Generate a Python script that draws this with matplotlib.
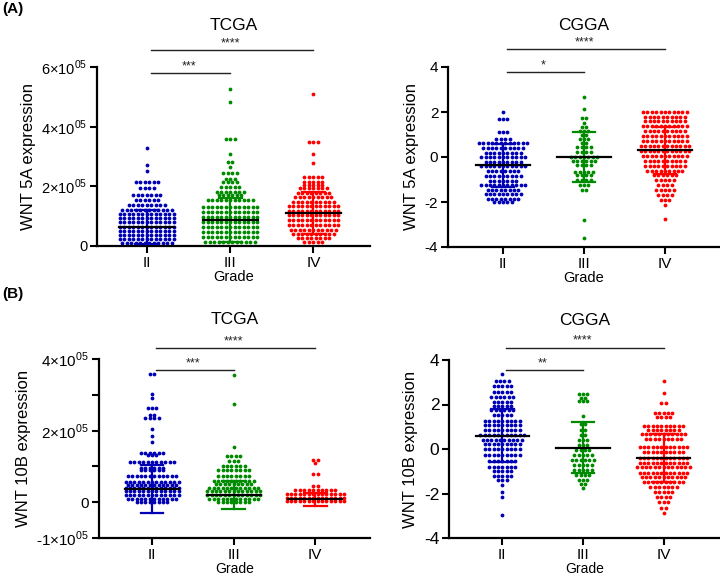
import numpy as np
import matplotlib
matplotlib.use("Agg")
import matplotlib.pyplot as plt

plt.rcParams['font.family'] = ['Liberation Sans', 'DejaVu Sans']
plt.rcParams['mathtext.fontset'] = 'custom'
plt.rcParams['mathtext.rm'] = 'Liberation Sans'

grades = ["II", "III", "IV"]
colors = ["#0000b4", "#008a00", "#ff0000"]

# ---------- (A) WNT 5A, TCGA (values in units of 1e3) ----------
a_tcga_II_lv = [330, 270, 250, 215, 195, 172, 155, 138, 122, 107, 93, 79, 65, 51, 37, 23, 9]
a_tcga_II_ct = [1, 1, 1, 6, 4, 7, 6, 9, 12, 13, 13, 13, 13, 13, 13, 13, 12]
a_tcga_III_lv = [526, 483, 358, 308, 281, 265, 245, 224, 215, 199, 182, 171, 154, 131, 114, 97, 80, 64, 47, 30, 13]
a_tcga_III_ct = [1, 1, 3, 1, 2, 1, 4, 3, 4, 5, 7, 6, 11, 13, 13, 13, 13, 13, 13, 13, 12]
a_tcga_IV_lv = [510, 347, 310, 278, 232, 215, 204, 193, 176, 163, 148, 134, 118, 104, 87, 70, 54, 39, 26, 14]
a_tcga_IV_ct = [1, 3, 1, 1, 5, 5, 5, 7, 8, 9, 10, 12, 12, 12, 12, 12, 11, 10, 8, 5]
a_tcga_mean = [64, 87, 111]
a_tcga_sd = [56, 73, 70]

# ---------- (A) WNT 5A, CGGA ----------
a_cgga_II_lv = [1.98, 1.68, 1.12, 0.82, 0.62, 0.42, 0.2, 0.0, -0.2, -0.42, -0.62, -0.85, -1.05, -1.25, -1.45, -1.65, -1.85, -2.0]
a_cgga_II_ct = [1, 3, 3, 4, 12, 10, 9, 11, 9, 11, 8, 9, 7, 11, 8, 9, 8, 5]
a_cgga_III_lv = [2.68, 2.12, 1.72, 1.5, 1.32, 1.17, 0.98, 0.79, 0.61, 0.43, 0.24, 0.01, -0.16, -0.36, -0.65, -0.8, -1.02, -1.24, -1.47, -2.8, -3.61]
a_cgga_III_ct = [1, 1, 2, 1, 2, 3, 2, 3, 2, 4, 4, 7, 6, 4, 5, 4, 4, 3, 2, 1, 1]
a_cgga_IV_lv = [2.0, 1.8, 1.58, 1.36, 1.14, 0.92, 0.7, 0.48, 0.26, 0.04, -0.18, -0.4, -0.62, -0.82, -1.04, -1.26, -1.48, -1.7, -1.92, -2.15, -2.76]
a_cgga_IV_ct = [11, 10, 10, 11, 10, 11, 11, 12, 12, 11, 10, 10, 9, 6, 5, 4, 5, 4, 3, 1, 1]
a_cgga_mean = [-0.37, 0.0, 0.3]
a_cgga_sd = [0.95, 1.12, 1.05]

# ---------- (B) WNT 10B, TCGA (values in units of 1e3) ----------
b_tcga_II_lv = [357, 302, 291, 263, 244, 235, 205, 184, 168, 138, 131, 112, 96, 89, 73, 56, 47, 41, 31, 20, 10, 1]
b_tcga_II_ct = [2, 1, 1, 3, 2, 4, 1, 1, 1, 6, 3, 11, 6, 6, 12, 13, 12, 13, 13, 13, 12, 8]
b_tcga_III_lv = [354, 275, 154, 129, 115, 101, 89, 73, 59, 50, 41, 31, 20, 10, 1]
b_tcga_III_ct = [1, 1, 1, 4, 3, 6, 8, 8, 10, 9, 12, 13, 13, 12, 8]
b_tcga_IV_lv = [117, 110, 80, 45, 33, 22, 13, 4]
b_tcga_IV_ct = [2, 1, 2, 2, 10, 14, 14, 14]
b_tcga_mean = [38, 20, 8]
b_tcga_sd = [67, 38, 18]

# ---------- (B) WNT 10B, CGGA ----------
b_cgga_II_lv = [3.36, 3.05, 2.83, 2.58, 2.33, 2.12, 1.93, 1.74, 1.53, 1.27, 1.06, 0.85, 0.63, 0.42, 0.22, 0.0, -0.25, -0.55, -0.8, -1.0, -1.2, -1.4, -1.62, -1.95, -2.15, -2.95]
b_cgga_II_ct = [1, 4, 5, 5, 6, 5, 5, 6, 5, 9, 9, 9, 11, 10, 9, 9, 9, 7, 7, 5, 5, 3, 1, 1, 1, 1]
b_cgga_III_lv = [2.48, 2.28, 2.17, 1.48, 1.11, 0.85, 0.63, 0.4, 0.18, -0.04, -0.27, -0.49, -0.72, -0.94, -1.17, -1.39, -1.57, -1.77]
b_cgga_III_ct = [3, 2, 3, 1, 2, 2, 2, 3, 3, 4, 5, 6, 5, 5, 4, 3, 2, 1]
b_cgga_IV_lv = [3.07, 2.5, 2.05, 1.6, 1.42, 1.03, 0.85, 0.67, 0.43, 0.1, -0.12, -0.42, -0.61, -0.82, -1.06, -1.24, -1.47, -1.69, -1.92, -2.17, -2.37, -2.67, -2.89]
b_cgga_IV_ct = [1, 1, 2, 5, 4, 10, 8, 11, 9, 12, 10, 12, 12, 13, 12, 11, 10, 7, 5, 4, 3, 2, 1]
b_cgga_mean = [0.6, 0.05, -0.4]
b_cgga_sd = [1.2, 1.15, 1.08]

fig = plt.figure(figsize=(7.2, 5.76), dpi=100)
W, H = 720.0, 576.0


def add_axes(left, right, top, bottom):
    return fig.add_axes([left / W, 1 - bottom / H, (right - left) / W, (bottom - top) / H])


def draw_panel(ax, groups, means, sds, scale, xlim, ylim, yticks, yticklabels,
               ylabel, title, sig_long, sig_short, sig_y, tick_fs, cat_fs, title_pad, xl_fs):
    dx = 0.054
    for i, (lv, ct) in enumerate(groups):
        xs, ys = [], []
        for v, n in zip(lv, ct):
            offs = (np.arange(n) - (n - 1) / 2.0) * dx
            xs.extend(i + offs)
            ys.extend([v * scale] * n)
        ax.scatter(xs, ys, s=7.5, color=colors[i], linewidths=0, zorder=2)
        m, sd = means[i] * scale, sds[i] * scale
        ax.plot([i, i], [m - sd, m + sd], color=colors[i], lw=1.6, zorder=3)
        for yy in (m - sd, m + sd):
            ax.plot([i - 0.14, i + 0.14], [yy, yy], color=colors[i], lw=1.6, zorder=3)
        ax.plot([i - 0.33, i + 0.33], [m, m], color='black', lw=1.6, zorder=4)
    ax.set_xlim(*xlim)
    ax.set_ylim(*ylim)
    ax.set_xticks(range(3))
    ax.set_xticklabels(grades, fontsize=cat_fs)
    ax.set_yticks(yticks)
    ax.set_yticklabels(yticklabels, fontsize=tick_fs)
    for sp in ('top', 'right'):
        ax.spines[sp].set_visible(False)
    for sp in ('left', 'bottom'):
        ax.spines[sp].set_linewidth(1.6)
    ax.tick_params(width=1.5, length=5, pad=2)
    ax.set_ylabel(ylabel, fontsize=12, labelpad=4)
    ax.set_xlabel("Grade", fontsize=xl_fs, labelpad=0)
    ax.set_title(title, fontsize=12.5, pad=title_pad)
    # significance bars
    yl, ys_ = sig_y
    ax.plot([0.05, 2.0], [yl, yl], transform=ax.get_xaxis_transform(), color='#222222', lw=1.0, clip_on=False)
    ax.plot([0.05, 1.0], [ys_, ys_], transform=ax.get_xaxis_transform(), color='#222222', lw=1.0, clip_on=False)
    ax.text(1.0, yl + 0.005, sig_long, transform=ax.get_xaxis_transform(), ha='center', va='bottom', fontsize=9, color='#222222')
    ax.text(0.5, ys_ + 0.005, sig_short, transform=ax.get_xaxis_transform(), ha='center', va='bottom', fontsize=9, color='#222222')


sci = lambda k: "%d×10$^{\\mathregular{05}}$" % k

ax1 = add_axes(97, 370, 67, 246)
draw_panel(ax1,
           [(a_tcga_II_lv, a_tcga_II_ct), (a_tcga_III_lv, a_tcga_III_ct), (a_tcga_IV_lv, a_tcga_IV_ct)],
           a_tcga_mean, a_tcga_sd, 1e3, (-0.6, 2.68), (0, 6e5),
           [0, 2e5, 4e5, 6e5], ["0", sci(2), sci(4), sci(6)],
           "WNT 5A expression", "TCGA", "****", "***", (1.095, 0.966), 10.5, 11, 27, 10.5)

ax2 = add_axes(448, 720, 67, 247)
draw_panel(ax2,
           [(a_cgga_II_lv, a_cgga_II_ct), (a_cgga_III_lv, a_cgga_III_ct), (a_cgga_IV_lv, a_cgga_IV_ct)],
           a_cgga_mean, a_cgga_sd, 1.0, (-0.68, 2.68), (-4, 4),
           [-4, -2, 0, 2, 4], ["-4", "-2", "0", "2", "4"],
           "WNT 5A expression", "CGGA", "****", "*", (1.1, 0.972), 11, 11, 27, 10.5)

ax3 = add_axes(99, 370, 359, 538)
draw_panel(ax3,
           [(b_tcga_II_lv, b_tcga_II_ct), (b_tcga_III_lv, b_tcga_III_ct), (b_tcga_IV_lv, b_tcga_IV_ct)],
           b_tcga_mean, b_tcga_sd, 1e3, (-0.65, 2.67), (-1e5, 4e5),
           [-1e5, 0, 1e5, 2e5, 3e5, 4e5], ["-1×10$^{\\mathregular{05}}$", "0", "", sci(2), "", sci(4)],
           "WNT 10B expression", "TCGA", "****", "***", (1.061, 0.939), 11, 11, 25, 10)

ax4 = add_axes(449, 720, 360, 538)
draw_panel(ax4,
           [(b_cgga_II_lv, b_cgga_II_ct), (b_cgga_III_lv, b_cgga_III_ct), (b_cgga_IV_lv, b_cgga_IV_ct)],
           b_cgga_mean, b_cgga_sd, 1.0, (-0.66, 2.7), (-4, 4),
           [-4, -2, 0, 2, 4], ["-4", "-2", "0", "2", "4"],
           "WNT 10B expression", "CGGA", "****", "**", (1.069, 0.944), 12.5, 11, 25, 10)

fig.text(2 / W, 1 - 2 / H, "(A)", fontsize=11, fontweight='bold', va='top', ha='left')
fig.text(2 / W, 1 - 287 / H, "(B)", fontsize=11, fontweight='bold', va='top', ha='left')

fig.savefig("out.png", dpi=100)
